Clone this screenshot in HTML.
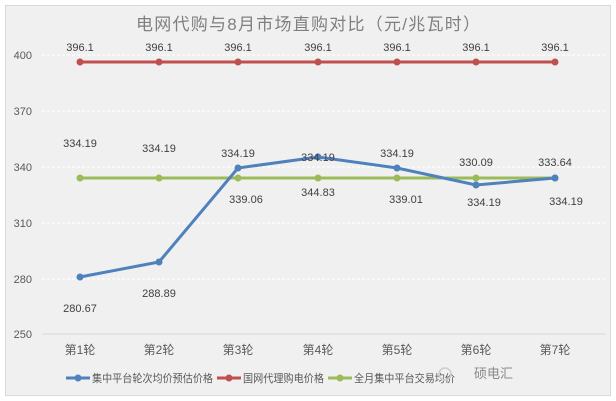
<!DOCTYPE html><html><head><meta charset="utf-8"><style>body{margin:0;background:#fff}svg{display:block}text{font-family:"Liberation Sans","Noto Sans CJK SC",sans-serif}</style></head><body>
<svg width="616" height="401" viewBox="0 0 616 401">
<rect x="5.5" y="5.5" width="605" height="390" fill="#f0f0f0" stroke="#d9d9d9"/>
<text x="308" y="30" text-anchor="middle" font-size="17" fill="#7f7f7f" textLength="344">电网代购与8月市场直购对比（元/兆瓦时）</text>
<g stroke="#fff" stroke-dasharray="3,2" stroke-width="1">
<line x1="42" x2="606" y1="55" y2="55"/><line x1="42" x2="606" y1="111" y2="111"/><line x1="42" x2="606" y1="167" y2="167"/><line x1="42" x2="606" y1="223" y2="223"/><line x1="42" x2="606" y1="279" y2="279"/></g>
<line x1="42" x2="606" y1="334" y2="334" stroke="#d9d9d9"/>
<g font-size="11" fill="#595959" text-anchor="end">
<text x="32" y="59">400</text><text x="32" y="115">370</text><text x="32" y="171">340</text><text x="32" y="227">310</text><text x="32" y="283">280</text><text x="32" y="338">250</text></g>
<g font-size="12" fill="#595959" text-anchor="middle">
<text x="80" y="354">第1轮</text><text x="159" y="354">第2轮</text><text x="238" y="354">第3轮</text><text x="318" y="354">第4轮</text><text x="397" y="354">第5轮</text><text x="476" y="354">第6轮</text><text x="555" y="354">第7轮</text></g>
<polyline points="80,62 159,62 238,62 318,62 397,62 476,62 555,62" fill="none" stroke="#c0504d" stroke-width="3"/>
<g fill="#c0504d"><circle cx="80" cy="62" r="3.5"/><circle cx="159" cy="62" r="3.5"/><circle cx="238" cy="62" r="3.5"/><circle cx="318" cy="62" r="3.5"/><circle cx="397" cy="62" r="3.5"/><circle cx="476" cy="62" r="3.5"/><circle cx="555" cy="62" r="3.5"/></g>
<polyline points="80,178 159,178 238,178 318,178 397,178 476,178 555,178" fill="none" stroke="#9bbb59" stroke-width="3"/>
<polyline points="80,277 159,262 238,168 318,157 397,168 476,185 555,178" fill="none" stroke="#4f81bd" stroke-width="3"/>
<g fill="#9bbb59"><circle cx="80" cy="178" r="3.5"/><circle cx="159" cy="178" r="3.5"/><circle cx="238" cy="178" r="3.5"/><circle cx="318" cy="178" r="3.5"/><circle cx="397" cy="178" r="3.5"/><circle cx="476" cy="178" r="3.5"/><circle cx="555" cy="178" r="3.5"/></g>
<g fill="#4f81bd"><circle cx="80" cy="277" r="3.5"/><circle cx="159" cy="262" r="3.5"/><circle cx="238" cy="168" r="3.5"/><circle cx="318" cy="157" r="3.5"/><circle cx="397" cy="168" r="3.5"/><circle cx="476" cy="185" r="3.5"/><circle cx="555" cy="178" r="3.5"/></g>
<g font-size="11" fill="#404040" text-anchor="middle">
<text x="80" y="51">396.1</text><text x="159" y="51">396.1</text><text x="238" y="51">396.1</text><text x="318" y="51">396.1</text><text x="397" y="51">396.1</text><text x="476" y="51">396.1</text><text x="555" y="51">396.1</text>
<text x="80" y="147">334.19</text><text x="159" y="152">334.19</text><text x="238" y="157">334.19</text><text x="318" y="161">334.19</text><text x="397" y="157">334.19</text><text x="476" y="166">330.09</text><text x="555" y="166">333.64</text>
<text x="80" y="312">280.67</text><text x="159" y="297">288.89</text><text x="246" y="203">339.06</text><text x="318" y="196">344.83</text><text x="406" y="203">339.01</text><text x="484" y="206">334.19</text><text x="566" y="205">334.19</text></g>
<g font-size="11" fill="#595959">
<line x1="66" x2="90" y1="378" y2="378" stroke="#4f81bd" stroke-width="3"/><circle cx="78" cy="378" r="3.5" fill="#4f81bd"/><text x="92" y="382" textLength="121" lengthAdjust="spacingAndGlyphs">集中平台轮次均价预估价格</text>
<line x1="217" x2="241" y1="378" y2="378" stroke="#c0504d" stroke-width="3"/><circle cx="229" cy="378" r="3.5" fill="#c0504d"/><text x="243" y="382" textLength="81" lengthAdjust="spacingAndGlyphs">国网代理购电价格</text>
<line x1="328" x2="352" y1="378" y2="378" stroke="#9bbb59" stroke-width="3"/><circle cx="340" cy="378" r="3.5" fill="#9bbb59"/><text x="354" y="382" textLength="101" lengthAdjust="spacingAndGlyphs">全月集中平台交易均价</text>
<circle cx="445" cy="374" r="6" fill="none" stroke="#ccc" stroke-width="1.5"/>
<text x="474" y="378" font-size="13" fill="#8a8a8a">硕电汇</text></g>
</svg></body></html>
